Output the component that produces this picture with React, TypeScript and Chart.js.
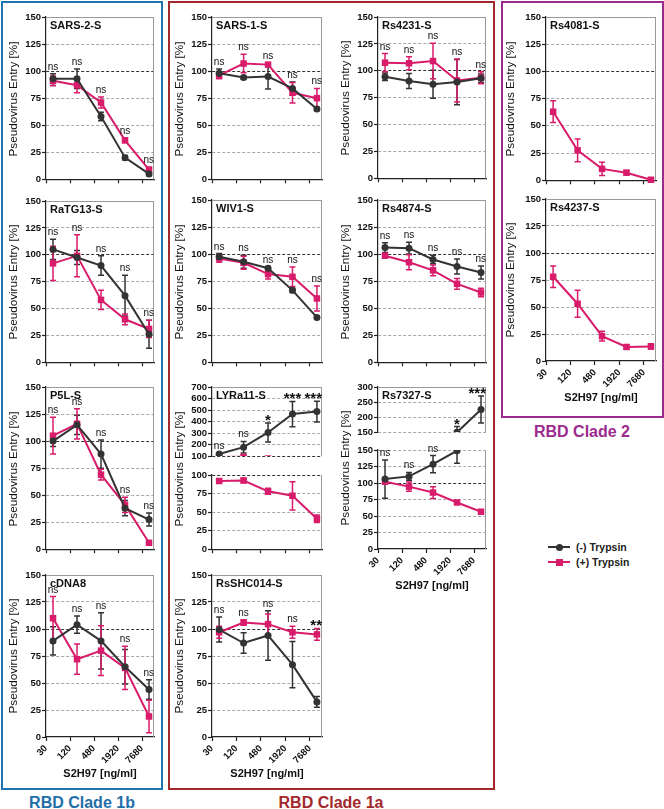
import React, { useEffect, useRef } from "react";
import { Chart, registerables } from "chart.js";

Chart.register(...registerables);

const FONT = "'Liberation Sans', Arial, Helvetica, sans-serif";
Chart.defaults.font.family = FONT;
Chart.defaults.color = "#111";

const BLACK = "#333333";
const PINK = "#d81b6a";
const FRAME = "#9a9a9a";
const GRID = "#a8a8a8";

// x positions (ng/ml) of the measured points, and the axis tick labels
const CONC = [45, 180, 720, 2880, 11520];
const X_TICKS = [30, 120, 480, 1920, 7680];
const X_MIN = 30;
const X_MAX = 15360;
const X_TITLE = "S2H97 [ng/ml]";
const Y_TITLE = "Pseudovirus Entry [%]";

const NS = ["ns", "ns", "ns", "ns", "ns"];

// ---- RBD Clade 1b ----
const SARS2_M = [93, 93, 58, 20, 5];
const SARS2_M_ERR = [4.5, 9, 4, 2, 1.5];
const SARS2_P = [91, 87, 71, 36, 9];
const SARS2_P_ERR = [4.5, 7, 5, 2, 2];

const RATG13_M = [105, 97.5, 90, 62, 26];
const RATG13_M_ERR = [9.5, 6.5, 9, 19, 13];
const RATG13_P = [92, 99, 58, 40, 31];
const RATG13_P_ERR = [16, 19.5, 9, 5, 8];

const P5L_M = [100, 115, 88, 38, 27.5];
const P5L_M_ERR = [5, 9, 13, 7, 6];
const P5L_P = [105, 116, 69, 41, 6];
const P5L_P_ERR = [17, 14, 5, 7, 1];

const CDNA8_M = [89, 104, 89, 65, 44];
const CDNA8_M_ERR = [13, 8, 26, 16, 9];
const CDNA8_P = [110, 72, 80, 64, 19];
const CDNA8_P_ERR = [20, 14, 23, 20, 15];

// ---- RBD Clade 1a ----
const SARS1_M = [98, 94, 95, 84, 65];
const SARS1_M_ERR = [4, 1.5, 11.5, 6, 1.5];
const SARS1_P = [96, 107, 106, 80, 75];
const SARS1_P_ERR = [3, 8.5, 1.5, 9.5, 9];

const WIV1_M = [97.5, 93, 87, 66.5, 41.5];
const WIV1_M_ERR = [3, 6, 1.5, 2, 1];
const WIV1_P = [96, 92, 81.5, 79, 59];
const WIV1_P_ERR = [3.5, 6, 4.5, 9, 11.5];

const LYRA11_M = [118, 177, 305, 465, 486];
const LYRA11_M_ERR = [10, 50, 83, 110, 90];
const LYRA11_P = [92, 92.5, 78, 72, 41];
const LYRA11_P_ERR = [2, 3, 4, 19, 5];
const LYRA11_SIG = ["ns", "ns", "*", "***", "***"];

const SHC014_M = [99.5, 87, 94, 67, 32.5];
const SHC014_M_ERR = [11.5, 9.5, 23, 21.5, 5];
const SHC014_P = [97, 106, 104.5, 97, 95];
const SHC014_P_ERR = [5.5, 2.5, 9.5, 5.5, 5.5];
const SHC014_SIG = ["ns", "ns", "ns", "ns", "**"];

const RS4231_M = [94.5, 90.5, 87.5, 89.5, 93];
const RS4231_M_ERR = [3.5, 7, 13, 21, 4];
const RS4231_P = [107.5, 107, 109, 91, 93.5];
const RS4231_P_ERR = [8.5, 6, 16.5, 20, 5.5];

const RS4874_M = [106, 105.5, 95, 88.5, 83];
const RS4874_M_ERR = [4.5, 5.5, 4, 7, 6];
const RS4874_P = [98.5, 92.5, 85, 72.5, 64.5];
const RS4874_P_ERR = [2, 7, 5, 5, 4];

const RS7327_M = [106, 110, 128.5, 149, 225];
const RS7327_M_ERR = [29, 6, 13, 19, 45];
const RS7327_P = [102, 94.5, 85.5, 70.5, 56.5];
const RS7327_P_ERR = [3, 7, 9, 1.5, 1.5];
const RS7327_SIG = ["ns", "ns", "ns", "*", "***"];

// ---- RBD Clade 2 ----
const RS4081_P = [63, 27.5, 10.5, 7, 0.5];
const RS4081_P_ERR = [10, 10.5, 6, 2, 0.5];

const RS4237_P = [78, 53, 23, 13, 13.5];
const RS4237_P_ERR = [10, 12.5, 4.5, 2, 2.5];

interface Series { values: number[]; errors: number[]; }
interface Panel {
  id: string;
  title?: string;
  ax: number; w: number; top: number; bottom: number;
  yMin: number; yMax: number; yStep: number;
  minus?: Series; plus?: Series; sig?: string[];
  xLabels: boolean; xAxis: boolean; frameTop: boolean; split: boolean;
}

const S = (values: number[], errors: number[]): Series => ({ values, errors });

function normal(id: string, title: string, ax: number, w: number, top: number, bottom: number,
  minus: Series | undefined, plus: Series | undefined, sig: string[] | undefined, xLabels: boolean): Panel {
  return { id, title, ax, w, top, bottom, yMin: 0, yMax: 150, yStep: 25, minus, plus, sig,
    xLabels, xAxis: true, frameTop: true, split: false };
}

const PANELS: Panel[] = [
  normal("sars2", "SARS-2-S", 46, 108, 17, 180, S(SARS2_M, SARS2_M_ERR), S(SARS2_P, SARS2_P_ERR), NS, false),
  normal("ratg13", "RaTG13-S", 46, 108, 201, 363, S(RATG13_M, RATG13_M_ERR), S(RATG13_P, RATG13_P_ERR), NS, false),
  normal("p5l", "P5L-S", 46, 108, 387, 550, S(P5L_M, P5L_M_ERR), S(P5L_P, P5L_P_ERR), NS, false),
  normal("cdna8", "cDNA8", 46, 108, 575, 737, S(CDNA8_M, CDNA8_M_ERR), S(CDNA8_P, CDNA8_P_ERR), NS, true),

  normal("sars1", "SARS-1-S", 212, 110, 17, 180, S(SARS1_M, SARS1_M_ERR), S(SARS1_P, SARS1_P_ERR), NS, false),
  normal("wiv1", "WIV1-S", 212, 110, 200, 363, S(WIV1_M, WIV1_M_ERR), S(WIV1_P, WIV1_P_ERR), NS, false),
  { id: "lyra11t", title: "LYRa11-S", ax: 212, w: 110, top: 387, bottom: 462, yMin: 100, yMax: 700, yStep: 100,
    minus: S(LYRA11_M, LYRA11_M_ERR), plus: S(LYRA11_P, LYRA11_P_ERR), sig: LYRA11_SIG,
    xLabels: false, xAxis: false, frameTop: true, split: true },
  { id: "lyra11b", ax: 212, w: 110, top: 475, bottom: 550, yMin: 0, yMax: 100, yStep: 25,
    minus: S(LYRA11_M, LYRA11_M_ERR), plus: S(LYRA11_P, LYRA11_P_ERR), sig: LYRA11_SIG,
    xLabels: false, xAxis: true, frameTop: false, split: true },
  normal("shc014", "RsSHC014-S", 212, 110, 575, 737, S(SHC014_M, SHC014_M_ERR), S(SHC014_P, SHC014_P_ERR), SHC014_SIG, true),

  normal("rs4231", "Rs4231-S", 378, 108, 17, 179, S(RS4231_M, RS4231_M_ERR), S(RS4231_P, RS4231_P_ERR), NS, false),
  normal("rs4874", "Rs4874-S", 378, 108, 200, 363, S(RS4874_M, RS4874_M_ERR), S(RS4874_P, RS4874_P_ERR), NS, false),
  { id: "rs7327t", title: "Rs7327-S", ax: 378, w: 108, top: 387, bottom: 438, yMin: 150, yMax: 300, yStep: 50,
    minus: S(RS7327_M, RS7327_M_ERR), plus: S(RS7327_P, RS7327_P_ERR), sig: RS7327_SIG,
    xLabels: false, xAxis: false, frameTop: true, split: true },
  { id: "rs7327b", ax: 378, w: 108, top: 450, bottom: 549, yMin: 0, yMax: 150, yStep: 25,
    minus: S(RS7327_M, RS7327_M_ERR), plus: S(RS7327_P, RS7327_P_ERR), sig: RS7327_SIG,
    xLabels: true, xAxis: true, frameTop: false, split: true },

  normal("rs4081", "Rs4081-S", 546, 110, 17, 181, undefined, S(RS4081_P, RS4081_P_ERR), undefined, false),
  normal("rs4237", "Rs4237-S", 546, 110, 199, 361, undefined, S(RS4237_P, RS4237_P_ERR), undefined, true),
];

// y axis titles: [x centre, top, bottom] of the plot block they belong to
const Y_TITLES: [number, number, number][] = [
  [13, 17, 180], [13, 201, 363], [13, 387, 550], [13, 575, 737],
  [179, 17, 180], [179, 200, 363], [179, 387, 550], [179, 575, 737],
  [345, 17, 179], [345, 200, 363], [345, 387, 549],
  [510, 17, 181], [510, 199, 361],
];

const PAD_T = 8;
const PAD_R = 6;
const Y_W = 40;

function makeDeco(p: Panel) {
  return {
    id: "deco_" + p.id,
    beforeDatasetsDraw(chart: any) {
      const { ctx, chartArea: a } = chart;
      const ys = chart.scales.y;
      ctx.save();
      ctx.strokeStyle = FRAME;
      ctx.lineWidth = 1;
      ctx.beginPath();
      if (p.frameTop) {
        ctx.moveTo(a.left, a.top + 0.5);
        ctx.lineTo(a.right, a.top + 0.5);
      }
      ctx.moveTo(a.right - 0.5, a.top);
      ctx.lineTo(a.right - 0.5, a.bottom);
      ctx.stroke();
      if (p.split) {
        ctx.beginPath();
        ctx.rect(a.left - 8, a.top, a.right - a.left + 16, a.bottom - a.top);
        ctx.clip();
      }
      chart.data.datasets.forEach((ds: any, di: number) => {
        const meta = chart.getDatasetMeta(di);
        ctx.strokeStyle = ds.borderColor;
        ctx.lineWidth = 1.5;
        ds.errors.forEach((e: number, i: number) => {
          const v = ds.data[i].y;
          const x = meta.data[i].x;
          const y1 = ys.getPixelForValue(v + e);
          const y2 = ys.getPixelForValue(v - e);
          ctx.beginPath();
          ctx.moveTo(x, y1); ctx.lineTo(x, y2);
          ctx.moveTo(x - 3, y1); ctx.lineTo(x + 3, y1);
          ctx.moveTo(x - 3, y2); ctx.lineTo(x + 3, y2);
          ctx.stroke();
        });
      });
      ctx.restore();
    },
    afterDatasetsDraw(chart: any) {
      const { ctx, chartArea: a } = chart;
      const ys = chart.scales.y;
      ctx.save();
      ctx.fillStyle = "#111";
      if (p.title) {
        ctx.font = `bold 11px ${FONT}`;
        ctx.textAlign = "left";
        ctx.textBaseline = "top";
        ctx.fillText(p.title, a.left + 4, a.top + 3);
      }
      if (p.sig) {
        p.sig.forEach((s, i) => {
          let anchor = -Infinity;
          let x = 0;
          chart.data.datasets.forEach((ds: any, di: number) => {
            anchor = Math.max(anchor, ds.data[i].y + ds.errors[i]);
            x = chart.getDatasetMeta(di).data[i].x;
          });
          if (anchor < ys.min || anchor > ys.max) return;
          const y = ys.getPixelForValue(anchor);
          const star = s.indexOf("*") >= 0;
          ctx.font = star ? `bold 15px ${FONT}` : `10px ${FONT}`;
          ctx.textAlign = "center";
          ctx.textBaseline = "alphabetic";
          const tw = ctx.measureText(s).width;
          const tx = Math.min(x, a.right - tw / 2);
          ctx.fillText(s, tx, star ? y + 2 : y - 4);
        });
      }
      if (p.xLabels) {
        ctx.font = `bold 11px ${FONT}`;
        ctx.textAlign = "center";
        ctx.textBaseline = "middle";
        ctx.fillText(X_TITLE, (a.left + a.right) / 2, a.bottom + 37);
      }
      ctx.restore();
    },
  };
}

function canvasBox(p: Panel) {
  const xh = p.xLabels ? 48 : p.xAxis ? 6 : 7;
  return {
    left: p.ax - Y_W,
    top: p.top - PAD_T,
    width: Y_W + p.w + PAD_R,
    height: PAD_T + (p.bottom - p.top) + xh,
  };
}

function buildConfig(p: Panel): any {
  const datasets: any[] = [];
  const mk = (s: Series, minus: boolean) => ({
    label: minus ? "(-) Trypsin" : "(+) Trypsin",
    data: CONC.map((c, i) => ({ x: c, y: s.values[i] })),
    errors: s.errors,
    borderColor: minus ? BLACK : PINK,
    backgroundColor: minus ? BLACK : PINK,
    borderWidth: 2,
    pointStyle: minus ? "circle" : "rect",
    pointRadius: minus ? 3.5 : 4.6,
    pointBorderWidth: 0,
    pointHoverRadius: 0,
    tension: 0,
    clip: p.split ? { left: 10, right: 10, top: 0, bottom: 0 } : false,
  });
  if (p.minus) datasets.push(mk(p.minus, true));
  if (p.plus) datasets.push(mk(p.plus, false));
  const gridColor = (v: number) => {
    if (v === 0) return "rgba(0,0,0,0)";
    if (v === p.yMax && p.frameTop) return "rgba(0,0,0,0)";
    if (v === 100) return "#333";
    return GRID;
  };
  return {
    type: "line",
    data: { datasets },
    options: {
      responsive: false,
      maintainAspectRatio: false,
      animation: false,
      events: [],
      layout: { padding: { left: 0, top: PAD_T, right: PAD_R, bottom: p.xAxis ? 0 : 7 } },
      plugins: { legend: { display: false }, tooltip: { enabled: false } },
      scales: {
        x: {
          type: "logarithmic",
          min: X_MIN,
          max: X_MAX,
          display: p.xAxis,
          afterBuildTicks: (s: any) => { s.ticks = X_TICKS.map((v) => ({ value: v })); },
          afterFit: (s: any) => { s.height = p.xLabels ? 48 : 6; },
          ticks: {
            display: p.xLabels,
            autoSkip: false,
            minRotation: 45,
            maxRotation: 45,
            padding: 2,
            color: "#111",
            font: { size: 9.5, weight: "bold" },
            callback: (v: any) => String(v),
          },
          grid: { drawOnChartArea: false, drawTicks: true, tickLength: 4, tickColor: "#222", tickWidth: 1.2 },
          border: { display: true, color: "#222", width: 1.2 },
        },
        y: {
          type: "linear",
          min: p.yMin,
          max: p.yMax,
          afterFit: (s: any) => { s.width = Y_W; },
          ticks: {
            stepSize: p.yStep,
            autoSkip: false,
            padding: 1,
            color: "#111",
            font: { size: 9.5, weight: "bold" },
          },
          grid: {
            color: (c: any) => gridColor(c.tick ? c.tick.value : -1),
            lineWidth: 1,
            drawTicks: true,
            tickLength: 4,
            tickColor: "#222",
            tickWidth: 1.2,
          },
          border: { display: true, color: "#222", width: 1.2, dash: [3, 2] },
        },
      },
    },
    plugins: [makeDeco(p)],
  };
}

function PanelChart({ p }: { p: Panel }) {
  const ref = useRef<HTMLCanvasElement | null>(null);
  const box = canvasBox(p);
  useEffect(() => {
    if (!ref.current) return;
    const chart = new Chart(ref.current, buildConfig(p));
    return () => chart.destroy();
  }, []);
  return (
    <canvas
      ref={ref}
      width={box.width}
      height={box.height}
      style={{ position: "absolute", left: box.left, top: box.top, width: box.width, height: box.height }}
    />
  );
}

function Box({ left, top, width, height, color }: { left: number; top: number; width: number; height: number; color: string }) {
  return (
    <div style={{ position: "absolute", left, top, width, height, border: `2px solid ${color}`, boxSizing: "border-box" }} />
  );
}

function CladeLabel({ x, y, text, color }: { x: number; y: number; text: string; color: string }) {
  return (
    <div style={{ position: "absolute", left: x, top: y, transform: "translate(-50%,-50%)", whiteSpace: "nowrap",
      fontFamily: FONT, fontWeight: "bold", fontSize: 16, color, lineHeight: 1 }}>{text}</div>
  );
}

function LegendRow({ top, color, square, text }: { top: number; color: string; square: boolean; text: string }) {
  return (
    <div style={{ position: "absolute", left: 548, top, height: 12, width: 110 }}>
      <div style={{ position: "absolute", left: 0, top: 5, width: 22, height: 2, background: color }} />
      <div style={{ position: "absolute", left: 7.5, top: 2.5, width: 7, height: 7, background: color,
        borderRadius: square ? 0 : "50%" }} />
      <div style={{ position: "absolute", left: 28, top: 0, fontFamily: FONT, fontSize: 10.5, fontWeight: "bold",
        color: "#222", lineHeight: "12px", whiteSpace: "nowrap" }}>{text}</div>
    </div>
  );
}

export default function App() {
  return (
    <div style={{ position: "fixed", left: 0, top: 0, width: 664, height: 809, background: "#fff", overflow: "hidden" }}>
      <Box left={1} top={1} width={162} height={789} color="#1f74b0" />
      <Box left={168} top={1} width={327} height={789} color="#a3282c" />
      <Box left={501} top={1} width={163} height={417} color="#9c2a8f" />
      {PANELS.map((p) => <PanelChart key={p.id} p={p} />)}
      {Y_TITLES.map(([x, t, b], i) => (
        <div key={i} style={{ position: "absolute", left: x, top: (t + b) / 2, transform: "translate(-50%,-50%) rotate(-90deg)",
          whiteSpace: "nowrap", fontFamily: FONT, fontSize: 11.7, color: "#111", lineHeight: 1 }}>{Y_TITLE}</div>
      ))}
      <LegendRow top={541} color={BLACK} square={false} text="(-) Trypsin" />
      <LegendRow top={556} color={PINK} square={true} text="(+) Trypsin" />
      <CladeLabel x={82} y={803} text="RBD Clade 1b" color="#1f6fa9" />
      <CladeLabel x={331} y={803} text="RBD Clade 1a" color="#a3282c" />
      <CladeLabel x={582} y={432} text="RBD Clade 2" color="#9c2a8f" />
    </div>
  );
}
